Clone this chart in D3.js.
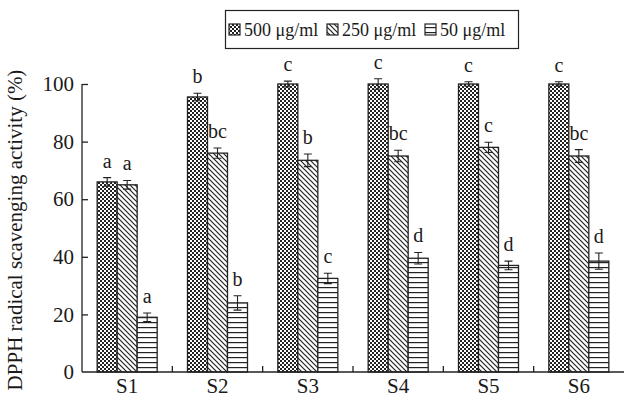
<!DOCTYPE html>
<html><head><meta charset="utf-8">
<script src="https://cdn.jsdelivr.net/npm/d3@7"></script>
<style>body{margin:0;background:#fff}svg{display:block}</style>
</head><body>
<svg id="c" width="627" height="395" font-family="Liberation Serif"></svg>
<script>
const categories=["S1","S2","S3","S4","S5","S6"];
const seriesNames=["500 μg/ml","250 μg/ml","50 μg/ml"];
const v500=[66,95.5,100,100,100,100];
const v250=[65,76,73.5,75,78,75];
const v50=[19,24,32.5,39.5,37,38.5];
const e500=[1.5,1.3,1.0,1.8,0.8,0.8];
const e250=[1.5,1.8,2.2,2.0,1.8,2.2];
const e50=[1.5,2.5,1.8,2.0,1.5,2.8];
const l500=["a","b","c","c","c","c"];
const l250=["a","bc","b","bc","c","bc"];
const l50=["a","b","c","d","d","d"];
const yTicks=[0,20,40,60,80,100];
const FF="Liberation Serif";
const ink="#1a1a1a";

const svg=d3.select("#c");
const defs=svg.append("defs");
const p1=defs.append("pattern").attr("id","p0").attr("patternUnits","userSpaceOnUse").attr("width",4).attr("height",4);
p1.append("rect").attr("width",4).attr("height",4).attr("fill","#fff");
p1.append("rect").attr("width",2).attr("height",2).attr("fill","#222");
p1.append("rect").attr("x",2).attr("y",2).attr("width",2).attr("height",2).attr("fill","#222");
const p2=defs.append("pattern").attr("id","p1").attr("patternUnits","userSpaceOnUse").attr("width",5).attr("height",5);
p2.append("rect").attr("width",5).attr("height",5).attr("fill","#fff");
p2.append("path").attr("d","M-1,-1L6,6M-1,4L1,6M4,-1L6,1").attr("stroke","#222").attr("stroke-width",1.2);
const p3=defs.append("pattern").attr("id","p2").attr("patternUnits","userSpaceOnUse").attr("width",6).attr("height",5);
p3.append("rect").attr("width",6).attr("height",5).attr("fill","#fff");
p3.append("rect").attr("y",2).attr("width",6).attr("height",1.2).attr("fill","#222");

const x0=d3.scaleBand().domain(categories).range([82,624]).paddingInner(0).paddingOuter(0);
const y=d3.scaleLinear().domain([0,100]).range([372,84]);
const bw=20;
const series=[
 {vals:v500,errs:e500,lets:l500},
 {vals:v250,errs:e250,lets:l250},
 {vals:v50,errs:e50,lets:l50}];
const x1=d3.scaleBand().domain([0,1,2]).range([0,bw*3]);

series.forEach((s,si)=>{
 const g=svg.append("g");
 categories.forEach((c,i)=>{
  const cx=x0(c)+x0.bandwidth()/2-bw*1.5+x1(si);
  const v=s.vals[i],e=s.errs[i];
  g.append("rect").attr("x",cx).attr("y",y(v)).attr("width",bw).attr("height",y(0)-y(v))
   .attr("fill",`url(#p${si})`).attr("stroke","#222").attr("stroke-width",1.3);
  const mx=cx+bw/2;
  g.append("path").attr("d",`M${mx},${y(v+e)}V${y(v-e)}M${mx-4},${y(v+e)}H${mx+4}M${mx-4},${y(v-e)}H${mx+4}`)
   .attr("stroke","#222").attr("stroke-width",1.1).attr("fill","none");
  g.append("text").attr("x",mx).attr("y",y(v+e)-10).attr("text-anchor","middle").attr("font-size",20)
   .attr("font-family",FF).attr("fill",ink).text(s.lets[i]);
 });
});

const yAxis=d3.axisLeft(y).tickValues(yTicks).tickSize(6).tickPadding(6);
const ga=svg.append("g").attr("transform","translate(82,0)").call(yAxis).attr("font-family",FF);
ga.select(".domain").attr("d","M0,84V372").attr("stroke","#222").attr("stroke-width",1.3);
ga.selectAll(".tick line").attr("x2",6).attr("stroke","#222").attr("stroke-width",1.3);
ga.selectAll(".tick text").attr("font-size",21).attr("fill",ink).attr("font-family",FF).attr("x",-8);
ga.selectAll(".tick").filter(d=>d===0).select("line").remove();

const xAxis=d3.axisBottom(x0).tickSize(0).tickPadding(6);
const gx=svg.append("g").attr("transform","translate(0,372)").call(xAxis).attr("font-family",FF);
gx.select(".domain").attr("d","M82,0H624").attr("stroke","#222").attr("stroke-width",1.3);
gx.selectAll(".tick text").attr("font-size",21).attr("fill",ink).attr("font-family",FF);
categories.slice(1).forEach(c=>{
 svg.append("line").attr("x1",x0(c)).attr("x2",x0(c)).attr("y1",372).attr("y2",366).attr("stroke","#222").attr("stroke-width",1.3);
});

svg.append("text").attr("transform","translate(22,230) rotate(-90)").attr("text-anchor","middle").attr("font-size",21)
 .attr("font-family",FF).attr("fill",ink).text("DPPH radical scavenging activity (%)");

const lg=svg.append("g");
lg.append("rect").attr("x",225.5).attr("y",10.5).attr("width",293).attr("height",38).attr("fill","#fff").attr("stroke","#222").attr("stroke-width",1.2);
const lx=[229,327,425];
seriesNames.forEach((n,i)=>{
 lg.append("rect").attr("x",lx[i]).attr("y",24).attr("width",11).attr("height",11).attr("fill",`url(#p${i})`).attr("stroke","#222").attr("stroke-width",1.2);
 lg.append("text").attr("x",lx[i]+15).attr("y",36).attr("font-size",18).attr("font-family",FF).attr("fill",ink).text(n);
});
</script>
</body></html>
